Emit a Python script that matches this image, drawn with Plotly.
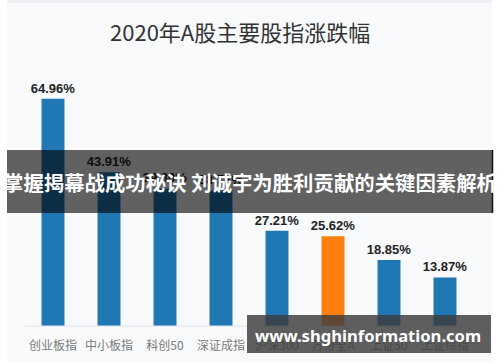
import plotly.graph_objects as go

title_text = "2020年A股主要股指涨跌幅"
categories = ["创业板指", "中小板指", "科创50", "深证成指", "沪深300", "万得全A", "上证50", "上证综指"]
values = [64.96, 43.91, 39.30, 38.73, 27.21, 25.62, 18.85, 13.87]
highlight = "万得全A"
banner_text = "掌握揭幕战成功秘诀 刘诚宇为胜利贡献的关键因素解析"
watermark_text = "www.shghinformation.com"

W, H = 500, 362
ML, MR, MT, MB = 25, 27, 81, 36
PW = W - ML - MR
PH = H - MT - MB


def px_x(px):
    return (px - ML) / PW


def px_y(py):
    return (H - MB - py) / PH


colors = ["#ff7f0e" if c == highlight else "#1f77b4" for c in categories]

fig = go.Figure(
    go.Bar(
        x=categories,
        y=values,
        marker=dict(color=colors, line=dict(width=0)),
        text=[f"{v:.2f}%" for v in values],
        textposition="outside",
        constraintext="none",
        textfont=dict(family="Liberation Sans, Arial", size=13, color="#222222", weight="bold"),
        cliponaxis=False,
        width=0.41,
        hoverinfo="skip",
    )
)

shapes = [
    dict(type="rect", xref="paper", yref="paper", x0=px_x(0), x1=px_x(7), y0=px_y(H), y1=px_y(0),
         fillcolor="white", line=dict(width=0), layer="below"),
    dict(type="rect", xref="paper", yref="paper", x0=px_x(492), x1=px_x(W), y0=px_y(H), y1=px_y(0),
         fillcolor="white", line=dict(width=0), layer="below"),
    dict(type="rect", xref="paper", yref="paper", x0=px_x(7), x1=px_x(492), y0=px_y(3), y1=px_y(0),
         fillcolor="#eef0f3", line=dict(width=0), layer="below"),
    dict(type="line", xref="paper", yref="paper", x0=0, x1=1, y0=0, y1=0,
         line=dict(color="#dde3ea", width=1.2)),
    dict(type="rect", xref="paper", yref="paper", x0=px_x(7), x1=px_x(492), y0=px_y(213), y1=px_y(150),
         fillcolor="rgba(0,0,0,0.61)", line=dict(width=0), layer="above"),
    dict(type="line", xref="paper", yref="paper", x0=px_x(492.5), x1=px_x(492.5), y0=px_y(213), y1=px_y(150),
         line=dict(color="#111111", width=1.5), layer="above"),
    dict(type="rect", xref="paper", yref="paper", x0=px_x(247), x1=px_x(491), y0=px_y(353), y1=px_y(315),
         fillcolor="rgba(60,60,60,0.82)", line=dict(width=0), layer="above"),
]

annotations = [
    dict(text=title_text, xref="paper", yref="paper", x=px_x(240), y=px_y(31),
         xanchor="center", yanchor="middle", showarrow=False,
         font=dict(family="Noto Sans CJK SC", size=22, color="#333333")),
    dict(text=banner_text, xref="paper", yref="paper", x=px_x(250), y=px_y(182),
         xanchor="center", yanchor="middle", showarrow=False,
         font=dict(family="Noto Sans CJK SC", size=20.4, color="white", weight="bold")),
    dict(text=watermark_text, xref="paper", yref="paper", x=px_x(368), y=px_y(335),
         xanchor="center", yanchor="middle", showarrow=False,
         font=dict(family="Noto Sans, DejaVu Sans", size=16.6, color="white", weight="bold")),
]

fig.update_layout(
    width=W, height=H,
    margin=dict(l=ML, r=MR, t=MT, b=MB, pad=0),
    paper_bgcolor="#f9fafc",
    plot_bgcolor="#f9fafc",
    showlegend=False,
    bargap=0.59,
    shapes=shapes,
    annotations=annotations,
    xaxis=dict(showgrid=False, zeroline=False, showline=False, ticks="",
               ticklabelstandoff=11, automargin=False,
               tickfont=dict(family="Noto Sans CJK SC", size=12, color="#7a7a7a")),
    yaxis=dict(range=[0, 70], showgrid=False, zeroline=False, showline=False,
               showticklabels=False, ticks=""),
)

fig.write_html(
    "out.html",
    config={"displayModeBar": False},
    post_script="document.body.style.margin='0';document.body.style.overflow='hidden';",
)
